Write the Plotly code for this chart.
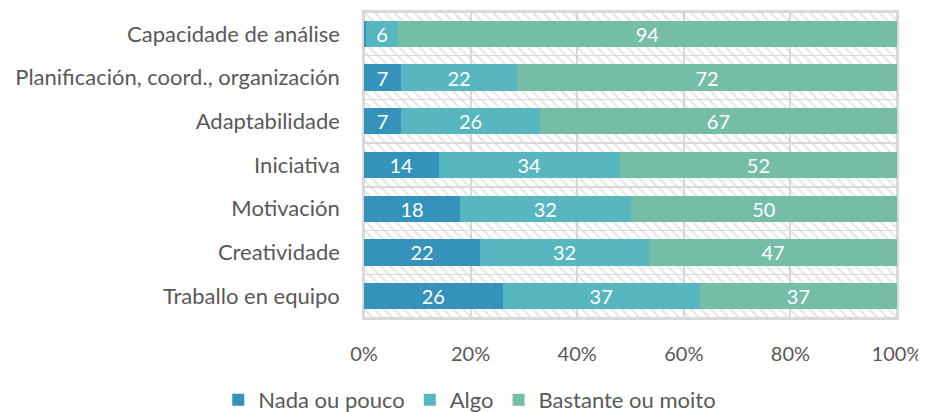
import plotly.graph_objects as go

categories = ["Capacidade de análise", "Planificación, coord., organización", "Adaptabilidade",
              "Iniciativa", "Motivación", "Creatividade", "Traballo en equipo"]
nada = [0.4, 7, 7, 14, 18, 22, 26]
algo = [6, 22, 26, 34, 32, 32, 37]
bastante = [94, 72, 67, 52, 50, 47, 37]
series_names = ["Nada ou pouco", "Algo", "Bastante ou moito"]
series_colors = ["#3592BA", "#58B6C0", "#75BDA7"]
tick_vals = [0, 20, 40, 60, 80, 100]
tick_text = ["0%", "20%", "40%", "60%", "80%", "100%"]

FONT = "Lato"
GRAY = "#595959"

fig = go.Figure()

# hatched background bands
fig.add_trace(go.Bar(
    y=categories, x=[100] * len(categories), orientation="h", width=1,
    marker=dict(color="rgba(0,0,0,0)", line=dict(color="#d9d9d9", width=1.5),
                pattern=dict(shape="\\", fgcolor="#cccccc", bgcolor="rgba(0,0,0,0)", size=7, solidity=0.3)),
    showlegend=False, hoverinfo="skip", yaxis="y", xaxis="x",
))

for name, vals, col in zip(series_names, [nada, algo, bastante], series_colors):
    fig.add_trace(go.Bar(
        y=categories, x=vals, orientation="h", name=name, width=0.6,
        marker=dict(color=col, line=dict(width=0)),
        text=[f"{v:.0f}" if v >= 1 else "" for v in vals],
        textposition="inside", insidetextanchor="middle", textangle=0,
        constraintext="none",
        textfont=dict(color="white", size=20, family=FONT),
        yaxis="y2", xaxis="x",
    ))

yr = [len(categories) - 0.5, -0.5]

fig.update_layout(
    width=918, height=404,
    margin=dict(l=356, r=29, t=4, b=94),
    barmode="stack", barnorm="percent",
    plot_bgcolor="white", paper_bgcolor="white",
    font=dict(family=FONT, color=GRAY, size=21),
    xaxis=dict(range=[0, 100], tickvals=tick_vals, ticktext=tick_text, automargin=False,
               showgrid=True, gridcolor="#d9d9d9", gridwidth=1.5, zeroline=False,
               showline=True, linecolor="#d9d9d9", mirror=True, linewidth=1.5,
               ticklabeloverflow="allow",
               ticklabelstandoff=17, tickfont=dict(size=20, color=GRAY), layer="above traces"),
    yaxis=dict(categoryorder="array", categoryarray=categories, range=yr, automargin=False,
               showgrid=False, showline=True, linecolor="#d9d9d9", mirror=True, linewidth=1.5,
               ticklabelstandoff=18, tickfont=dict(size=22, color=GRAY)),
    yaxis2=dict(categoryorder="array", categoryarray=categories, range=yr,
                overlaying="y", showticklabels=False, showgrid=False),
    legend=dict(orientation="h", xref="container", yref="container", x=0.503, xanchor="center",
                y=0.0297, yanchor="middle",
                font=dict(size=22, color=GRAY), traceorder="normal", itemwidth=30),
    showlegend=True,
)

fig.write_html("out.html")
